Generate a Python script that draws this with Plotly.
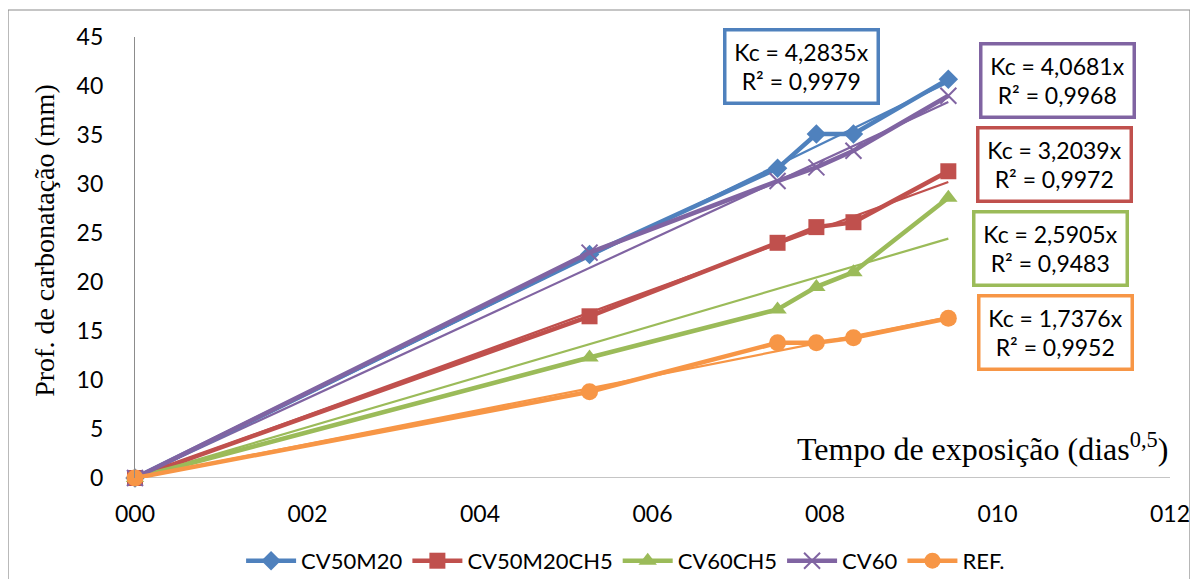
import plotly.graph_objects as go

# ---- data ----
x_vals = [0, 5.27, 7.45, 7.90, 8.33, 9.43]
series_names = ["CV50M20", "CV50M20CH5", "CV60CH5", "CV60", "REF."]
cv50m20 = [0, 22.8, 31.6, 35.1, 35.1, 40.7]
cv50m20ch5 = [0, 16.5, 24.0, 25.6, 26.1, 31.3]
cv60ch5 = [0, 12.3, 17.2, 19.5, 21.0, 28.6]
cv60 = [0, 23.0, 30.3, 31.7, 33.4, 39.0]
ref = [0, 8.8, 13.8, 13.8, 14.3, 16.3]
kc_values = [4.2835, 3.2039, 2.5905, 4.0681, 1.7376]
r2_values = [0.9979, 0.9972, 0.9483, 0.9968, 0.9952]
x_tick_vals = [0, 2, 4, 6, 8, 10, 12]
x_tick_text = ["000", "002", "004", "006", "008", "010", "012"]
y_tick_vals = [0, 5, 10, 15, 20, 25, 30, 35, 40, 45]

colors = ["#4F81BD", "#C0504D", "#9BBB59", "#8064A2", "#F79646"]
symbols = ["diamond", "square", "triangle-up", "x-thin", "circle"]
sizes = [15, 16, 16, 16, 17]
all_y = [cv50m20, cv50m20ch5, cv60ch5, cv60, ref]
# label box centres (positions), same order as series
box_pos = [(7.73, 42.0), (10.66, 32.0), (10.61, 23.4), (10.69, 40.6), (10.67, 14.8)]

fig = go.Figure()

# trendlines
for i, k in enumerate(kc_values):
    xs = [x_vals[0], x_vals[-1]]
    fig.add_trace(go.Scatter(x=xs, y=[k * v for v in xs], mode="lines",
                             line=dict(color=colors[i], width=2.2),
                             showlegend=False, hoverinfo="skip", cliponaxis=False))

for i, name in enumerate(series_names):
    mk = dict(symbol=symbols[i], size=sizes[i], color=colors[i])
    if symbols[i] == "x-thin":
        mk["line"] = dict(color=colors[i], width=2)
    fig.add_trace(go.Scatter(x=x_vals, y=all_y[i], mode="lines+markers", name=name,
                             line=dict(color=colors[i], width=4.5), marker=mk,
                             cliponaxis=False))

for i, k in enumerate(kc_values):
    txt = "Kc = " + f"{k:.4f}".replace(".", ",") + "x<br>R² = " + f"{r2_values[i]:.4f}".replace(".", ",")
    fig.add_annotation(x=box_pos[i][0], y=box_pos[i][1], text=txt, showarrow=False,
                       font=dict(family="Lato", size=23, color="black"),
                       bordercolor=colors[i], borderwidth=3.5, borderpad=3,
                       bgcolor="white", width=144, height=64, align="center")

fig.add_annotation(x=12, y=3.2, xanchor="right", yanchor="middle", showarrow=False,
                   text="Tempo de exposição (dias<sup>0,5</sup>)",
                   font=dict(family="Liberation Serif", size=32, color="black"))

fig.add_annotation(xref="paper", yref="paper", x=-0.087, y=0.54, textangle=-90,
                   xanchor="center", yanchor="middle", showarrow=False,
                   text="Prof. de carbonatação (mm)",
                   font=dict(family="Liberation Serif", size=28, color="black"))

# outer border
fig.add_shape(type="rect", xref="paper", yref="paper", x0=-0.1227, x1=1.0193, y0=-0.4, y1=1.0612,
              line=dict(color="#8c8c8c", width=1.2), layer="below")

fig.update_xaxes(range=[0, 12], tickvals=x_tick_vals, ticktext=x_tick_text,
                 showgrid=False, zeroline=False, showline=False,
                 ticks="", ticklabelstandoff=20,
                 tickfont=dict(family="Lato", size=23, color="black"))
fig.update_yaxes(range=[0, 45], tickvals=y_tick_vals, showgrid=False, zeroline=False,
                 showline=True, linecolor="#8c8c8c", linewidth=1.2,
                 ticks="", ticklabelstandoff=26,
                 tickfont=dict(family="Lato", size=23, color="black"))
# x axis line at y=0
fig.add_shape(type="line", xref="paper", yref="y", x0=0, x1=1, y0=0, y1=0,
              line=dict(color="#8c8c8c", width=1.2), layer="below")

# page body has an 8px margin, so the figure is made 8px smaller and margins shifted
fig.update_layout(
    width=1190, height=571,
    margin=dict(l=127, r=28, t=29, b=101, autoexpand=False),
    paper_bgcolor="white", plot_bgcolor="white",
    legend=dict(orientation="h", x=0.474, xanchor="center", y=-0.188, yanchor="middle",
                font=dict(family="Lato", size=22, color="black"), itemwidth=50,
                traceorder="normal"),
)

fig.write_html("out.html")
